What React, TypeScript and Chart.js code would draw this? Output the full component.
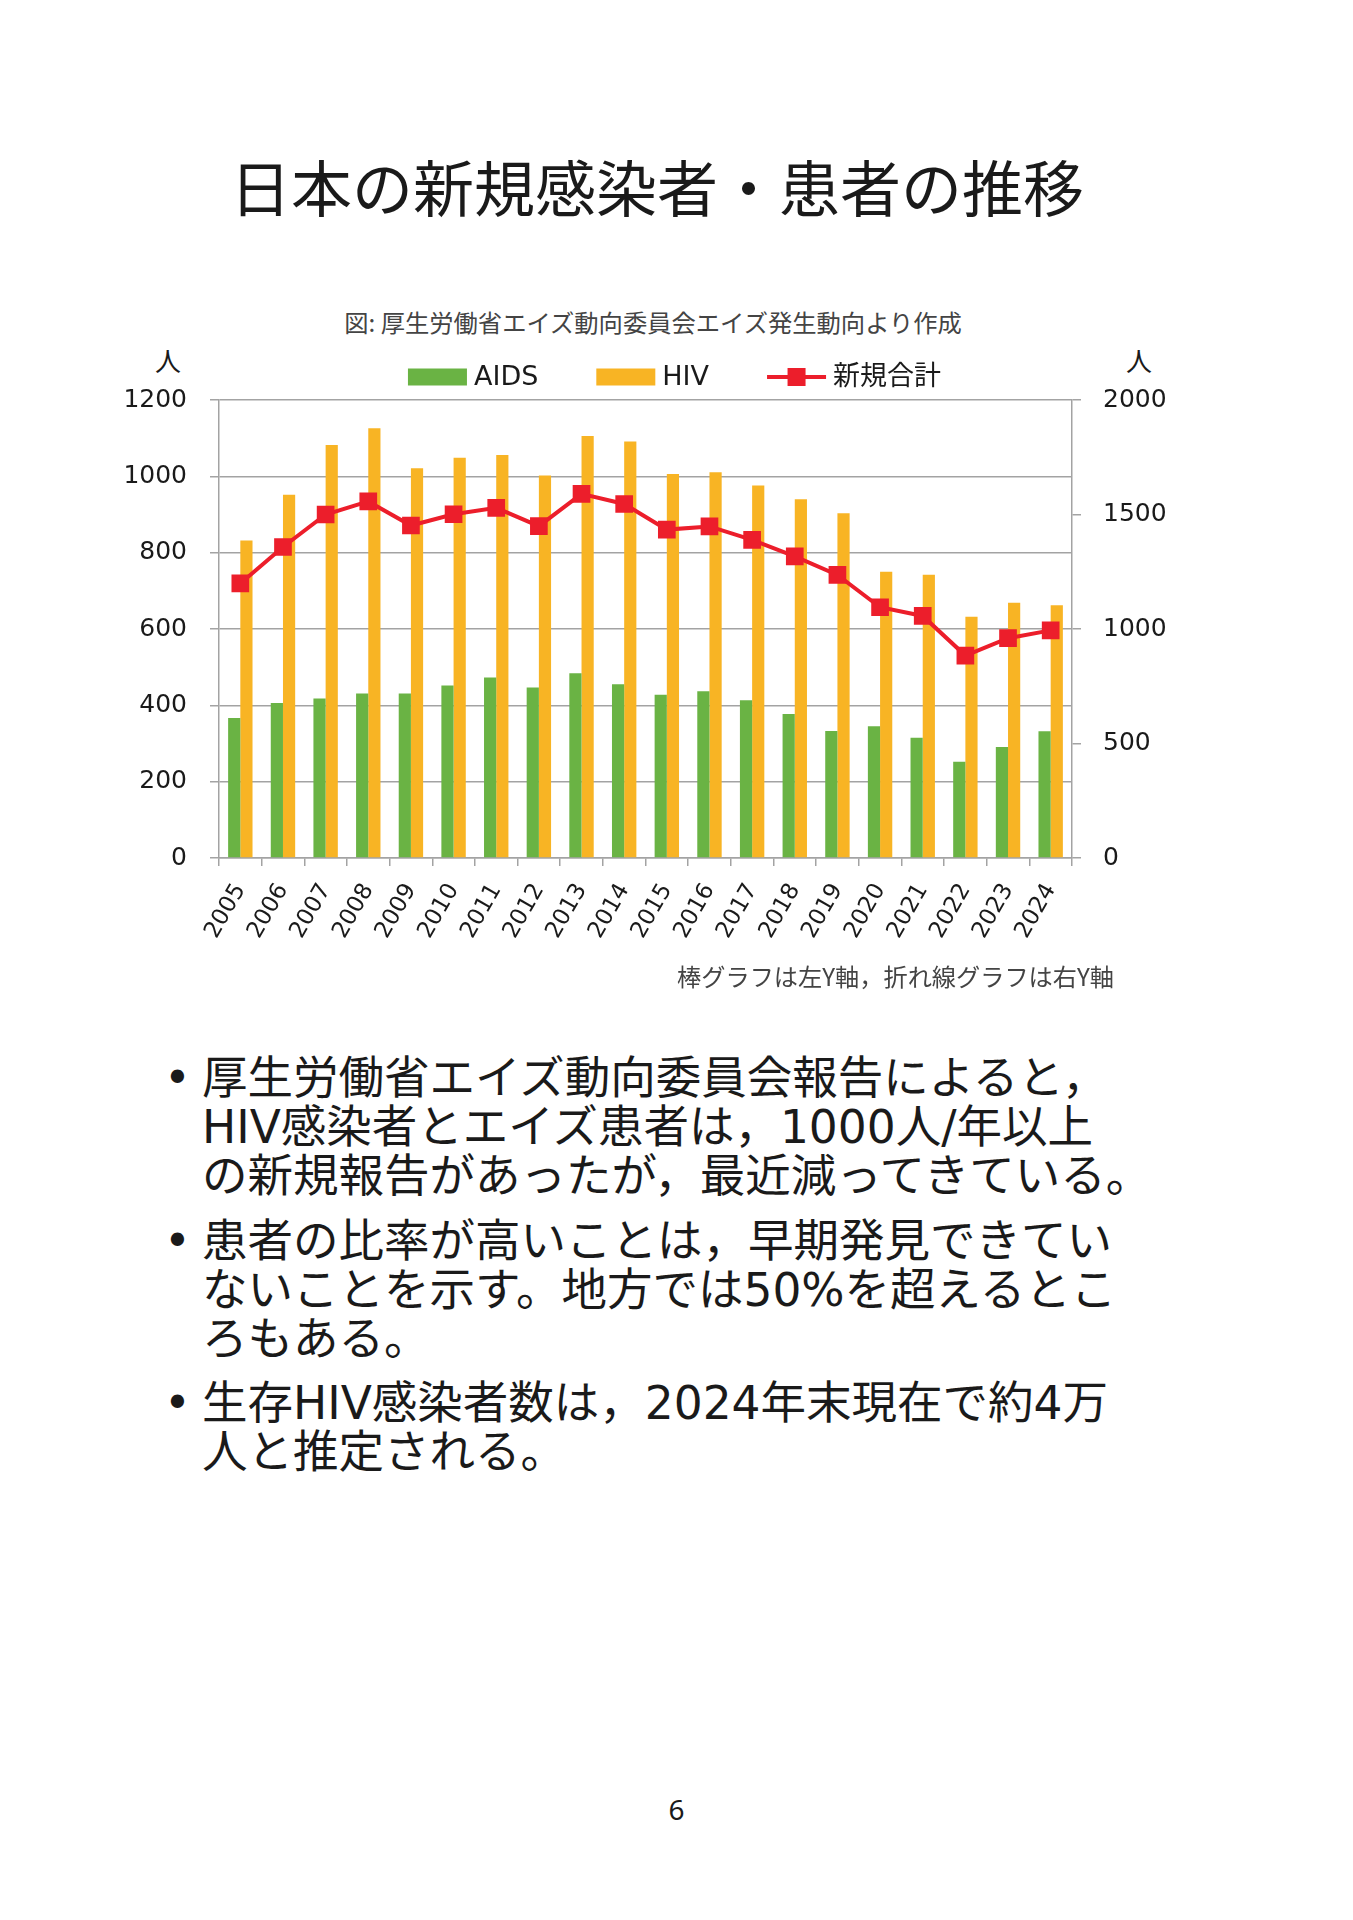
import React, { useEffect, useRef } from "react";
import { Chart, registerables } from "chart.js";

Chart.register(...registerables);

// 年次
const years = [
  "2005", "2006", "2007", "2008", "2009", "2010", "2011", "2012", "2013", "2014",
  "2015", "2016", "2017", "2018", "2019", "2020", "2021", "2022", "2023", "2024",
];
// エイズ患者報告数（左軸）
const aidsCases = [367, 406, 418, 431, 431, 452, 473, 447, 484, 455, 428, 437, 413, 377, 333, 345, 315, 252, 291, 332];
// HIV感染者報告数（左軸）
const hivCases = [832, 952, 1082, 1126, 1021, 1049, 1056, 1002, 1106, 1091, 1006, 1011, 976, 940, 903, 750, 742, 632, 669, 662];
// 新規合計（右軸）
const newTotal = [1199, 1358, 1500, 1557, 1452, 1501, 1529, 1449, 1590, 1546, 1434, 1448, 1389, 1317, 1236, 1095, 1057, 884, 960, 994];

const leftTicks = [0, 200, 400, 600, 800, 1000, 1200];
const rightTicks = [0, 500, 1000, 1500, 2000];

const GREEN = "#6AB344";
const ORANGE = "#F8B424";
const RED = "#EC1E2B";
const GRID = "#a3a3a3";
const AXIS_FONT = "'DejaVu Sans', 'Noto Sans CJK JP', sans-serif";
const JP_FONT = "'Noto Sans CJK JP', 'Noto Sans', sans-serif";
const BODY_FONT = "'DejaVu Sans', 'Noto Sans CJK JP', sans-serif";

// Legend row above the plot: filled boxes for bars, line + square for the line series
const topLegend = {
  id: "topLegend",
  afterDraw(chart: any) {
    const ctx = chart.ctx as CanvasRenderingContext2D;
    const boxW = 59;
    const boxH = 17;
    const gapText = 7;
    const gapItem = 58;
    ctx.save();
    ctx.font = `27px ${AXIS_FONT}`;
    ctx.textBaseline = "middle";
    ctx.textAlign = "left";
    const items = chart.data.datasets.map((ds: any) => ({
      label: ds.label as string,
      isLine: ds.type === "line",
      color: (ds.type === "line" ? ds.borderColor : ds.backgroundColor) as string,
    }));
    const widths = items.map((it: any) => boxW + gapText + ctx.measureText(it.label).width);
    const total = widths.reduce((a: number, b: number) => a + b, 0) + gapItem * (items.length - 1);
    let x = chart.width / 2 - total / 2 - 2;
    const y = chart.chartArea.top - 23;
    items.forEach((it: any, i: number) => {
      if (it.isLine) {
        ctx.strokeStyle = it.color;
        ctx.lineWidth = 4;
        ctx.beginPath();
        ctx.moveTo(x, y);
        ctx.lineTo(x + boxW, y);
        ctx.stroke();
        ctx.fillStyle = it.color;
        ctx.fillRect(x + boxW / 2 - 9, y - 9, 18, 18);
      } else {
        ctx.fillStyle = it.color;
        ctx.fillRect(x, y - boxH / 2, boxW, boxH);
      }
      ctx.fillStyle = "#1a1a1a";
      ctx.fillText(it.label, x + boxW + gapText, y + 1);
      x += widths[i] + gapItem;
    });
    ctx.restore();
  },
};

const plainNumber = (v: any) => String(v);

function TrendChart() {
  const ref = useRef<HTMLCanvasElement | null>(null);

  useEffect(() => {
    if (!ref.current) return;
    const chart = new Chart(ref.current, {
      type: "bar",
      data: {
        labels: years,
        datasets: [
          {
            type: "bar",
            label: "AIDS",
            data: aidsCases,
            backgroundColor: GREEN,
            yAxisID: "y",
            order: 1,
            categoryPercentage: 0.572,
            barPercentage: 1,
          },
          {
            type: "bar",
            label: "HIV",
            data: hivCases,
            backgroundColor: ORANGE,
            yAxisID: "y",
            order: 1,
            categoryPercentage: 0.572,
            barPercentage: 1,
          },
          {
            type: "line",
            label: "新規合計",
            data: newTotal,
            borderColor: RED,
            backgroundColor: RED,
            borderWidth: 4,
            pointStyle: "rect",
            pointRadius: 12.5,
            pointBackgroundColor: RED,
            pointBorderWidth: 0,
            tension: 0,
            yAxisID: "y1",
            order: 0,
          } as any,
        ],
      },
      options: {
        animation: false,
        responsive: false,
        maintainAspectRatio: false,
        layout: { padding: { top: 120, left: 0, right: 0, bottom: 2 } },
        plugins: {
          legend: { display: false },
          tooltip: { enabled: false },
          title: { display: false },
        },
        scales: {
          x: {
            offset: true,
            grid: {
              offset: true,
              drawOnChartArea: false,
              drawTicks: true,
              tickLength: 8,
              color: GRID,
              lineWidth: 1.5,
            },
            border: { display: true, color: GRID, width: 1.5 },
            ticks: {
              autoSkip: false,
              minRotation: 60,
              maxRotation: 60,
              padding: 13,
              color: "#1a1a1a",
              font: { family: AXIS_FONT, size: 23 },
            },
            afterFit: (s: any) => {
              s.height = 100;
            },
          },
          y: {
            position: "left",
            min: 0,
            max: 1200,
            afterBuildTicks: (s: any) => {
              s.ticks = leftTicks.map((v) => ({ value: v }));
            },
            grid: {
              color: GRID,
              lineWidth: 1.5,
              drawTicks: true,
              tickLength: 9,
            },
            border: { display: true, color: GRID, width: 1.5 },
            ticks: {
              padding: 23,
              color: "#1a1a1a",
              font: { family: AXIS_FONT, size: 25 },
              callback: plainNumber,
            },
            afterFit: (s: any) => {
              s.width = 219;
            },
          },
          y1: {
            position: "right",
            min: 0,
            max: 2000,
            afterBuildTicks: (s: any) => {
              s.ticks = rightTicks.map((v) => ({ value: v }));
            },
            grid: {
              drawOnChartArea: false,
              drawTicks: true,
              tickLength: 9,
              color: GRID,
              lineWidth: 1.5,
            },
            border: { display: true, color: GRID, width: 1.5 },
            ticks: {
              padding: 22,
              color: "#1a1a1a",
              font: { family: AXIS_FONT, size: 25 },
              callback: plainNumber,
            },
            afterFit: (s: any) => {
              s.width = 281;
            },
          },
        },
      },
      plugins: [topLegend],
    });
    return () => chart.destroy();
  }, []);

  return (
    <canvas
      ref={ref}
      width={1353}
      height={680}
      style={{ position: "absolute", left: 0, top: 280, width: 1353, height: 680 }}
    />
  );
}

const abs = (top: number, extra: React.CSSProperties = {}): React.CSSProperties => ({
  position: "absolute",
  top,
  margin: 0,
  fontFamily: JP_FONT,
  color: "#1a1a1a",
  ...extra,
});

const bulletLines: string[][] = [
  [
    "厚生労働省エイズ動向委員会報告によると，",
    "HIV感染者とエイズ患者は，1000人/年以上",
    "の新規報告があったが，最近減ってきている。",
  ],
  [
    "患者の比率が高いことは，早期発見できてい",
    "ないことを示す。地方では50%を超えるとこ",
    "ろもある。",
  ],
  ["生存HIV感染者数は，2024年末現在で約4万", "人と推定される。"],
];
const bulletTops = [1054, 1217, 1379];

export default function App() {
  return (
    <div
      style={{
        position: "absolute",
        left: 0,
        top: 0,
        width: 1353,
        height: 1920,
        background: "#ffffff",
        overflow: "hidden",
      }}
    >
      <div style={abs(155, { left: 0, width: 1314, textAlign: "center", fontSize: 61, lineHeight: "61px" })}>
        日本の新規感染者・患者の推移
      </div>
      <div
        style={abs(310, {
          left: 0,
          width: 1306,
          textAlign: "center",
          fontSize: 24.3,
          lineHeight: "24px",
          color: "#444444",
        })}
      >
        図: 厚生労働省エイズ動向委員会エイズ発生動向より作成
      </div>
      <div style={abs(347, { left: 155, width: 26, textAlign: "center", fontSize: 26, lineHeight: "26px" })}>人</div>
      <div style={abs(347, { left: 1126, width: 26, textAlign: "center", fontSize: 26, lineHeight: "26px" })}>人</div>

      <TrendChart />

      <div
        style={abs(964, {
          right: 239,
          textAlign: "right",
          fontSize: 24.2,
          lineHeight: "24px",
          color: "#444444",
          whiteSpace: "nowrap",
        })}
      >
        棒グラフは左Y軸，折れ線グラフは右Y軸
      </div>

      {bulletLines.map((lines, i) => (
        <div
          key={i}
          style={abs(bulletTops[i], {
            left: 202,
            fontSize: 45.5,
            lineHeight: "49px",
            whiteSpace: "nowrap",
            fontFamily: BODY_FONT,
          })}
        >
          <span style={{ position: "absolute", left: -38, top: 0 }}>•</span>
          {lines.map((l, j) => (
            <div key={j}>{l}</div>
          ))}
        </div>
      ))}

      <div
        style={abs(1795, {
          left: 0,
          width: 1353,
          textAlign: "center",
          fontSize: 28,
          lineHeight: "28px",
          fontFamily: "'Noto Sans', sans-serif",
        })}
      >
        6
      </div>
    </div>
  );
}
